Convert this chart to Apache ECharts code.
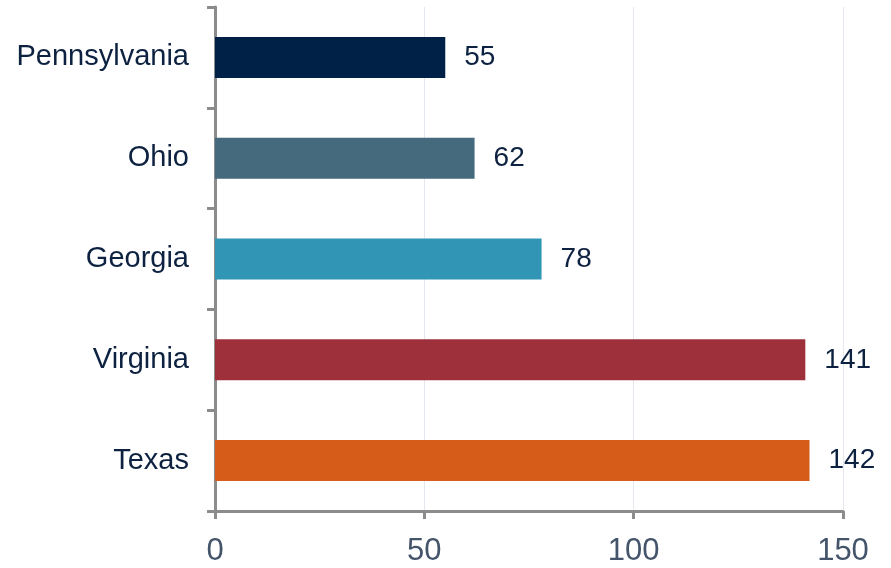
<!DOCTYPE html>
<html><head><meta charset="utf-8">
<script src="https://cdn.jsdelivr.net/npm/echarts@6/dist/echarts.min.js"></script>
<style>html,body{margin:0;padding:0;background:#fff}#c{width:891px;height:568px}</style>
</head><body><div id="c"></div>
<script>
const categories = ['Texas', 'Virginia', 'Georgia', 'Ohio', 'Pennsylvania'];
const values = [142, 141, 78, 62, 55];
const barColors = ['#d65c1a', '#9e303c', '#3196b5', '#456a7d', '#002147'];
const xTicks = [0, 50, 100, 150];

const chart = echarts.init(document.getElementById('c'), null, {renderer: 'canvas'});
chart.setOption({
  animation: false,
  grid: {left: 215, right: 48, top: 7, bottom: 57, containLabel: false},
  xAxis: {
    type: 'value', min: 0, max: 150, interval: 50,
    axisLine: {show: true, lineStyle: {color: '#8c8c8c', width: 3}},
    axisTick: {show: true, length: 8, lineStyle: {color: '#8c8c8c', width: 3}},
    splitLine: {show: true, lineStyle: {color: '#e3e8ef', width: 1}},
    axisLabel: {color: '#44546a', fontSize: 31, fontFamily: 'Liberation Sans', margin: 25,
      formatter: v => xTicks.includes(v) ? String(v) : ''}
  },
  yAxis: {
    type: 'category', data: categories,
    axisLine: {show: true, lineStyle: {color: '#8c8c8c', width: 3}},
    axisTick: {show: true, length: 8, lineStyle: {color: '#8c8c8c', width: 3}},
    axisLabel: {color: '#0d2240', fontSize: 29, fontFamily: 'Liberation Sans', margin: 26}
  },
  series: [{
    type: 'bar', barWidth: 41,
    data: values.map((v, i) => ({value: v, itemStyle: {color: barColors[i]}})),
    label: {show: true, position: 'right', distance: 19, color: '#0d2240', fontSize: 28, fontFamily: 'Liberation Sans'}
  }]
});
</script></body></html>
